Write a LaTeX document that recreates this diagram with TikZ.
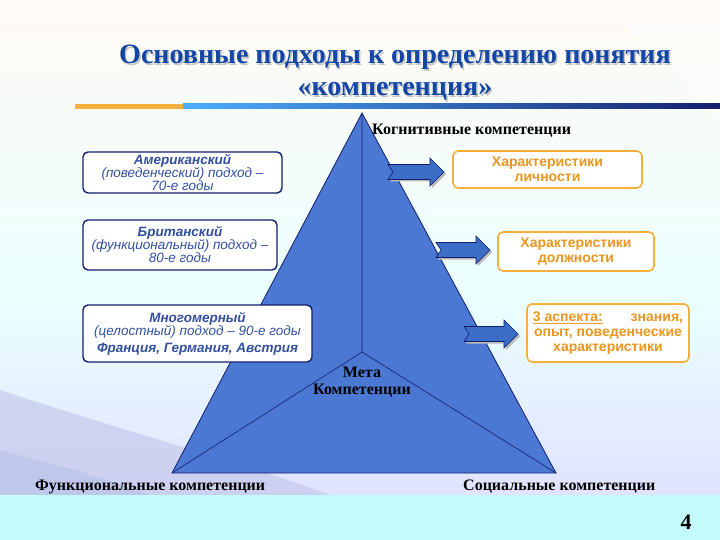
\documentclass[tikz,border=0pt]{standalone}
\usepackage{fontspec}
\setmainfont{Liberation Serif}
\newfontfamily\boxfont{Liberation Sans}
\usetikzlibrary{calc}
\definecolor{titleblue}{RGB}{20,70,165}
\definecolor{navy}{RGB}{20,30,110}
\definecolor{boxtext}{RGB}{50,80,160}
\definecolor{orangeb}{RGB}{245,175,60}
\definecolor{orangetxt}{RGB}{235,150,30}
\definecolor{trifill}{RGB}{75,120,210}
\definecolor{arrowfill}{RGB}{60,110,200}
\definecolor{bandcyan}{RGB}{195,250,250}
\newcommand\myblockarrow[4]{% x y length name
  \begin{scope}[shift={(#1,#2)}]
  \fill[gray!55] (2,-5.5) -- (7,2) -- (2,9.5) -- (#3-12,9.5) -- (#3-12,16) -- (#3+2,2) -- (#3-12,-12) -- (#3-12,-5.5) -- cycle;
  \draw[navy,line width=0.6pt,fill=arrowfill] (0,-7.5) -- (5,0) -- (0,7.5) -- (#3-14,7.5) -- (#3-14,14) -- (#3,0) -- (#3-14,-14) -- (#3-14,-7.5) -- cycle;
  \coordinate (#4) at (#3,0);
  \end{scope}}
\begin{document}
\begin{tikzpicture}[x=1pt,y=-1pt,
  leftbox/.style={draw=navy,line width=1.4pt,fill=white,rounded corners=5pt,inner sep=0pt,
     font=\boxfont\itshape\fontsize{13.5}{13}\selectfont,text=boxtext,align=center},
  rightbox/.style={draw=orangeb,line width=1.6pt,fill=white,rounded corners=5pt,inner sep=0pt,
     font=\boxfont\bfseries\fontsize{14}{15}\selectfont,text=orangetxt,align=center},
  lbl/.style={font=\bfseries\fontsize{16}{17}\selectfont,text=black,inner sep=0pt}
]
\useasboundingbox (0,0) rectangle (720,540);
% background
\shade[top color=white!96!orange,bottom color=white!92!cyan] (0,0) rectangle (720,300);
\shade[top color=white!92!cyan,bottom color=cyan!8!blue!12] (0,300) rectangle (720,495);
\fill[cyan!30!blue!25,opacity=0.6] (0,390) .. controls (120,430) and (250,465) .. (330,495) -- (0,495) -- cycle;
\fill[cyan!40!blue!30,opacity=0.5] (0,450) .. controls (60,465) and (110,480) .. (150,495) -- (0,495) -- cycle;
\fill[white,opacity=0.35] (600,0) .. controls (640,40) and (660,60) .. (720,120) -- (720,0) -- cycle;
\fill[bandcyan] (0,495) rectangle (720,540);
% title
\node[font=\bfseries\fontsize{28}{30}\selectfont,text=gray!45,align=center,inner sep=0pt] at (396.5,74.5)
  {Основные подходы к определению понятия\\[2pt]«компетенция»};
\node[font=\bfseries\fontsize{28}{30}\selectfont,text=titleblue,align=center,inner sep=0pt] (title) at (395,73)
  {Основные подходы к определению понятия\\[2pt]«компетенция»};
% title rule
\fill[orangeb] (75,104) rectangle (183,109);
\shade[left color=blue!45!cyan!70,right color=navy] (183,104) rectangle (720,109);
% triangle
\coordinate (apex) at (362,113);
\coordinate (bl) at (172,473);
\coordinate (br) at (556,473);
\coordinate (mid) at (362,352);
\fill[trifill,draw=navy,line width=0.8pt] (apex) -- (bl) -- (br) -- cycle;
\draw[navy,line width=0.6pt] (apex) -- (mid) (mid) -- (bl) (mid) -- (br);
% labels
\node[lbl,anchor=west] (cog) at (372,131) {Когнитивные компетенции};
\node[lbl,align=center] (meta) at (362,382) {Мета\\Компетенции};
\node[lbl,anchor=west] (func) at (35,487) {Функциональные компетенции};
\node[lbl,anchor=west] (soc) at (463,487) {Социальные компетенции};
\node[font=\bfseries\fontsize{22}{24}\selectfont,inner sep=0pt] (num) at (686,522) {4};
% left boxes
\node[leftbox,minimum width=199pt,minimum height=41pt] (b1) at (182.5,172.5)
  {\bfseries Американский\\(поведенческий) подход –\\70-е годы};
\node[leftbox,minimum width=194pt,minimum height=50pt] (b2) at (180,245)
  {\bfseries Британский\\(функциональный) подход –\\80-е годы};
\node[leftbox,minimum width=229pt,minimum height=57pt] (b3) at (197.5,333.5)
  {\bfseries Многомерный\\(целостный) подход – 90-е годы\\[4pt]\bfseries Франция, Германия, Австрия};
% right boxes
\node[rightbox,minimum width=189pt,minimum height=37pt] (r1) at (547.5,169.5)
  {Характеристики\\личности};
\node[rightbox,minimum width=156pt,minimum height=39pt] (r2) at (576,251.5)
  {Характеристики\\должности};
\node[rightbox,minimum width=162pt,minimum height=58pt] (r3) at (608,333)
  {\underline{3 аспекта:}\hspace{2em}знания,\\опыт, поведенческие\\характеристики};
% arrows
\myblockarrow{388}{172}{56}{a1}
\myblockarrow{436}{250}{54}{a2}
\myblockarrow{464}{334}{54}{a3}
\end{tikzpicture}
\end{document}
